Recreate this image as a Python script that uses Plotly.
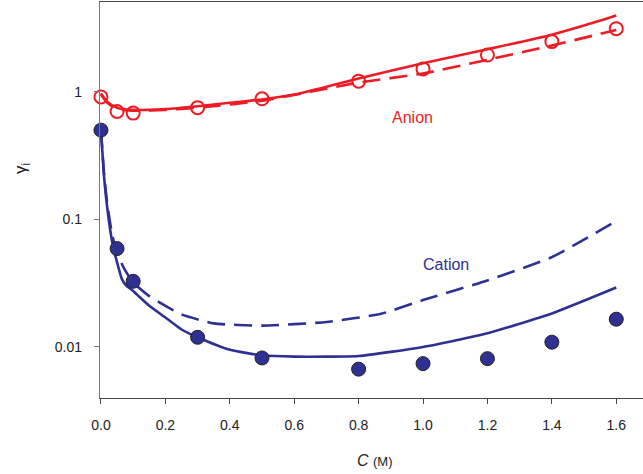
import plotly.graph_objects as go

# ---- data ----
c_points = [0.0, 0.05, 0.1, 0.3, 0.5, 0.8, 1.0, 1.2, 1.4, 1.6]
anion_points = [0.91, 0.70, 0.68, 0.75, 0.88, 1.21, 1.51, 1.94, 2.47, 3.12]
cation_points = [0.50, 0.059, 0.0327, 0.0119, 0.0082, 0.0067, 0.0074, 0.0081, 0.0109, 0.0165]

c_anion_solid = [0.0, 0.02, 0.05, 0.1, 0.15, 0.2, 0.3, 0.4, 0.5, 0.6, 0.8, 1.0, 1.2, 1.4, 1.5, 1.6]
anion_solid = [0.97, 0.83, 0.75, 0.72, 0.72, 0.73, 0.77, 0.82, 0.87, 0.95, 1.27, 1.67, 2.15, 2.80, 3.30, 3.95]

c_anion_dash = [0.0, 0.02, 0.05, 0.1, 0.2, 0.3, 0.5, 0.8, 1.0, 1.2, 1.4, 1.6]
anion_dash = [0.95, 0.82, 0.73, 0.71, 0.72, 0.75, 0.85, 1.18, 1.39, 1.78, 2.30, 3.05]

c_cation_solid = [0.0, 0.01, 0.02, 0.036, 0.05, 0.065, 0.08, 0.1, 0.12, 0.15, 0.2, 0.25, 0.3, 0.4, 0.5,
                  0.6, 0.8, 1.0, 1.2, 1.4, 1.6]
cation_solid = [0.50, 0.21, 0.12, 0.064, 0.046, 0.034, 0.030, 0.0275, 0.0246, 0.021, 0.017, 0.0137, 0.0119,
                0.0095, 0.0086, 0.0084, 0.0085, 0.0100, 0.0128, 0.0183, 0.0292]

c_cation_dash = [0.0, 0.01, 0.02, 0.035, 0.05, 0.07, 0.1, 0.15, 0.2, 0.25, 0.35, 0.5, 0.7, 0.87, 1.0,
                 1.2, 1.4, 1.6]
cation_dash = [0.50, 0.22, 0.13, 0.075, 0.055, 0.042, 0.032, 0.025, 0.021, 0.018, 0.0153, 0.0147, 0.0157,
               0.0182, 0.0233, 0.0332, 0.0506, 0.097]

x_ticks = [0.0, 0.2, 0.4, 0.6, 0.8, 1.0, 1.2, 1.4, 1.6]
x_tick_text = ["0.0", "0.2", "0.4", "0.6", "0.8", "1.0", "1.2", "1.4", "1.6"]
y_ticks = [0.01, 0.1, 1]
y_tick_text = ["0.01", "0.1", "1"]

RED = "#ED1C24"
NAVY = "#2E3192"
FONT = "Liberation Sans, Arial, sans-serif"

fig = go.Figure()

fig.add_trace(go.Scatter(x=c_anion_solid, y=anion_solid, mode="lines",
                         line=dict(color=RED, width=2.6, shape="spline", smoothing=0.6),
                         cliponaxis=False, showlegend=False))
fig.add_trace(go.Scatter(x=c_anion_dash, y=anion_dash, mode="lines",
                         line=dict(color=RED, width=2.6, dash="18px,9px", shape="spline", smoothing=0.6),
                         cliponaxis=False, showlegend=False))
fig.add_trace(go.Scatter(x=c_cation_solid, y=cation_solid, mode="lines",
                         line=dict(color=NAVY, width=2.6, shape="spline", smoothing=0.5),
                         cliponaxis=False, showlegend=False))
fig.add_trace(go.Scatter(x=c_cation_dash, y=cation_dash, mode="lines",
                         line=dict(color=NAVY, width=2.6, dash="18px,9px", shape="spline", smoothing=0.5),
                         cliponaxis=False, showlegend=False))
fig.add_trace(go.Scatter(x=c_points, y=anion_points, mode="markers",
                         marker=dict(symbol="circle-open", size=13, color=RED, line=dict(width=2, color=RED)),
                         cliponaxis=False, showlegend=False))
fig.add_trace(go.Scatter(x=c_points, y=cation_points, mode="markers",
                         marker=dict(symbol="circle", size=14, color=NAVY, line=dict(width=1, color="#222222")),
                         cliponaxis=False, showlegend=False))

L, R, T, B = 100, 0, 2, 76
W, H = 643, 474
pw, ph = W - L - R, H - T - B

def px(xp):
    return (xp - L) / pw

def py(yp):
    return (H - B - yp) / ph

def ann(text, x, y, size, color, angle=0):
    return dict(text=text, x=px(x), y=py(y), xref="paper", yref="paper", showarrow=False,
                xanchor="center", yanchor="middle", textangle=angle,
                font=dict(family=FONT, size=size, color=color))

fig.update_layout(
    width=W, height=H,
    margin=dict(l=L, r=R, t=T, b=B, pad=0),
    paper_bgcolor="white", plot_bgcolor="white",
    font=dict(family=FONT, size=14, color="#222222"),
    xaxis=dict(range=[-0.003, 1.683], tickvals=x_ticks, ticktext=x_tick_text,
               showgrid=False, zeroline=False, showline=True, linecolor="#444444", linewidth=1.3,
               mirror=True, ticks="outside", ticklen=5, tickcolor="#444444", ticklabelstandoff=9,
               tickfont=dict(size=14, color="#222222")),
    yaxis=dict(type="log", range=[-2.4, 0.703], tickvals=y_ticks, ticktext=y_tick_text,
               showgrid=False, zeroline=False, showline=True, linecolor="#777777", linewidth=1.3,
               ticks="outside", ticklen=5, tickcolor="#777777", ticklabelstandoff=9,
               tickfont=dict(size=14, color="#222222")),
    annotations=[
        ann("Anion", 412, 117, 16, RED),
        ann("Cation", 446, 264, 16, NAVY),
        ann("<i>C</i> <span style='font-size:13px'>(M)</span>", 375, 460, 16, "#222222"),
        ann("γ<sub>i</sub>", 22, 169, 17, "#222222", -90),
    ],
)

fig.write_html("out.html", config={"displayModeBar": False},
               post_script="document.body.style.margin='0';document.body.style.padding='0';")
